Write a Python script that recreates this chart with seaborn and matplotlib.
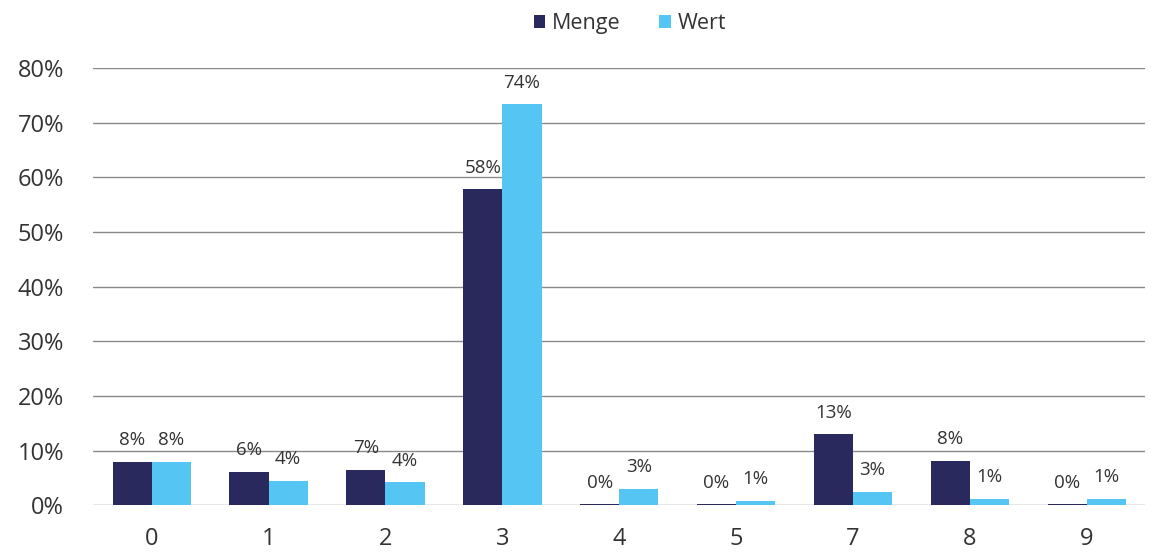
import seaborn as sns
import pandas as pd
import matplotlib.pyplot as plt
from matplotlib.ticker import PercentFormatter

categories = ['0', '1', '2', '3', '4', '5', '7', '8', '9']
menge = [8.0, 6.1, 6.5, 57.8, 0.2, 0.2, 13.0, 8.1, 0.2]
wert = [8.0, 4.5, 4.2, 73.4, 3.0, 0.8, 2.5, 1.2, 1.2]
menge_labels = ['8%', '6%', '7%', '58%', '0%', '0%', '13%', '8%', '0%']
wert_labels = ['8%', '4%', '4%', '74%', '3%', '1%', '3%', '1%', '1%']

df = pd.DataFrame({
    'cat': categories * 2,
    'val': menge + wert,
    'series': ['Menge'] * len(categories) + ['Wert'] * len(categories),
})

sns.set_style('white')
plt.rcParams['font.family'] = ['Open Sans', 'DejaVu Sans']
text_col = '#333333'

fig, ax = plt.subplots(figsize=(11.51, 5.54), dpi=100)
sns.barplot(data=df, x='cat', y='val', hue='series', order=categories,
            palette=['#29295e', '#55c6f4'], width=0.67, saturation=1,
            linewidth=0, ax=ax, zorder=3)

for cont, labs in zip(ax.containers, [menge_labels, wert_labels]):
    ax.bar_label(cont, labels=labs, padding=9, fontsize=13.5, color=text_col)

ax.set_ylim(0, 80)
ax.set_xlim(-0.5, 8.5)
ax.set_yticks(range(0, 81, 10))
ax.yaxis.set_major_formatter(PercentFormatter(decimals=0))
ax.yaxis.grid(True, color='#8a8a8a', linewidth=1)
ax.set_axisbelow(True)
sns.despine(ax=ax, left=True, bottom=True)
ax.tick_params(axis='y', length=0, labelsize=17, labelcolor=text_col, pad=21)
ax.tick_params(axis='x', length=0, labelsize=17, labelcolor=text_col, pad=16)
ax.set_xlabel('')
ax.set_ylabel('')

ax.legend(loc='upper center', bbox_to_anchor=(0.51, 1.17), ncol=2, frameon=False,
          handlelength=0.55, handleheight=0.55, handletextpad=0.3, columnspacing=1.8,
          fontsize=15.5, labelcolor=text_col)

fig.subplots_adjust(left=0.081, right=0.995, top=0.877, bottom=0.088)
fig.savefig('out.png', dpi=100)
